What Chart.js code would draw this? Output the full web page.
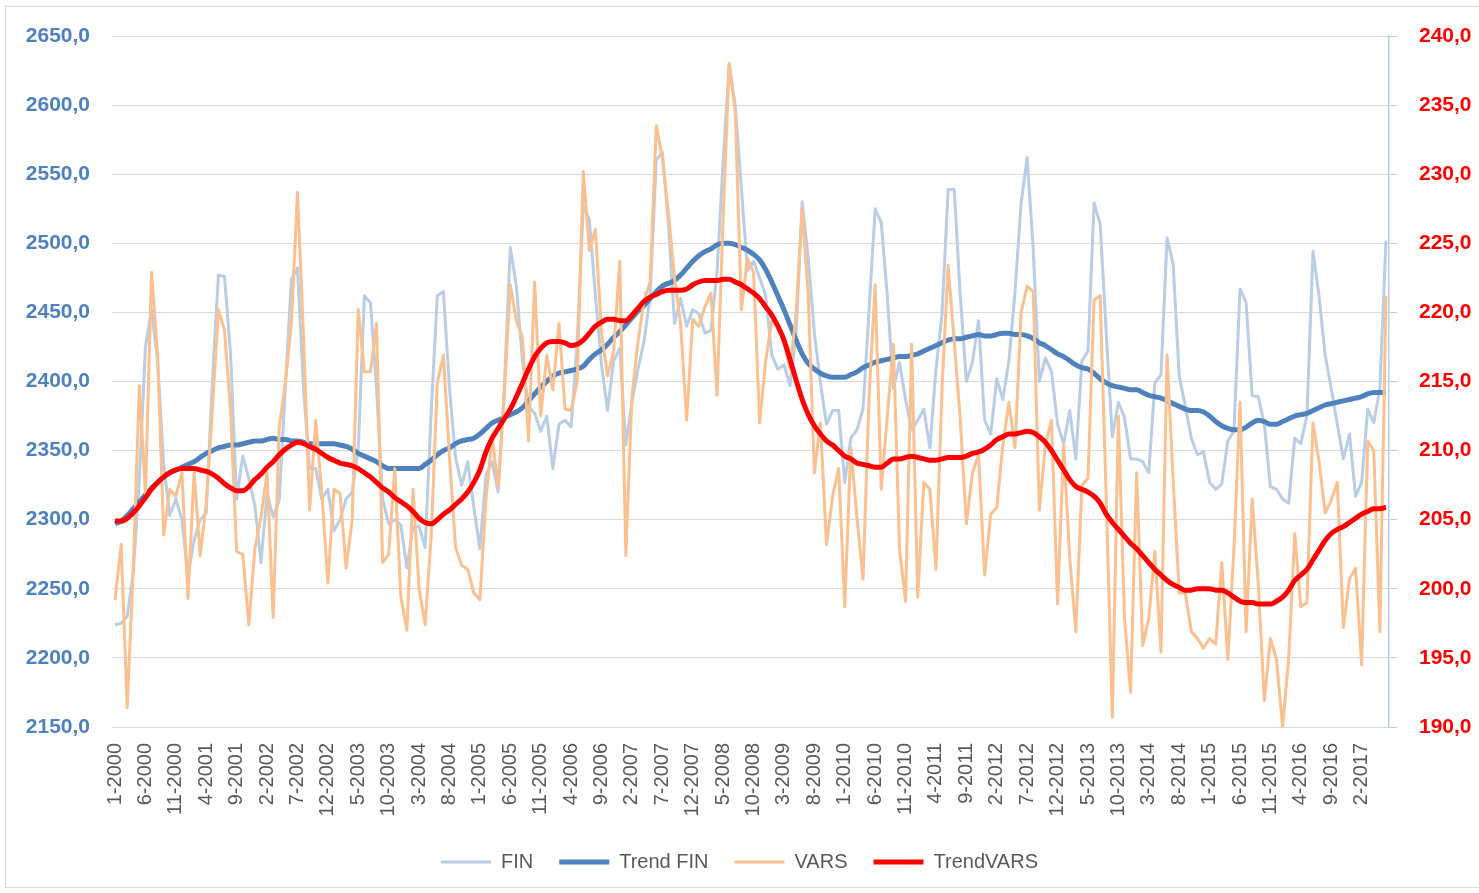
<!DOCTYPE html>
<html>
<head>
<meta charset="utf-8">
<script src="https://cdn.jsdelivr.net/npm/chart.js@4.4.0/dist/chart.umd.min.js"></script>
<style>
  html, body { margin: 0; padding: 0; background: #fff; }
  #wrap { position: relative; width: 1479px; height: 893px; overflow: hidden; }
  #frame { position: absolute; left: 5px; top: 6px; width: 1490px; height: 882px; border: 1px solid #d9d9d9; box-sizing: border-box; pointer-events: none; }
</style>
</head>
<body>
<div id="wrap">
  <canvas id="chart" width="1479" height="893"></canvas>
  <div id="frame"></div>
</div>
<script>
// monthly categories 1-2000 .. 6-2017
const firstYear = 2000;
const monthCount = 210;
const months = [];
for (let i = 0; i < monthCount; i++) {
    months.push((i % 12 + 1) + '-' + (firstYear + Math.floor(i / 12)));
}

// FIN (left axis)
const fin = [
    2224, 2225, 2230, 2262, 2330, 2425, 2452, 2415, 2340, 2303,
    2315, 2300, 2260, 2285, 2300, 2305, 2400, 2477, 2476, 2420,
    2315, 2346, 2330, 2310, 2269, 2319, 2302, 2314, 2395, 2474,
    2482, 2395, 2337, 2337, 2315, 2322, 2292, 2300, 2315, 2320,
    2352, 2462, 2457, 2395, 2315, 2297, 2300, 2296, 2265, 2295,
    2295, 2280, 2379, 2462, 2465, 2395, 2345, 2325, 2342, 2309,
    2279, 2332, 2342, 2320, 2395, 2497, 2469, 2415, 2382, 2377,
    2364, 2375, 2337, 2369, 2372, 2367, 2429, 2527, 2517, 2462,
    2412, 2379, 2415, 2424, 2354, 2385, 2409, 2429, 2462, 2560,
    2566, 2515, 2442, 2460, 2440, 2452, 2449, 2435, 2437, 2479,
    2560, 2630, 2599, 2540, 2480, 2487, 2475, 2462, 2419, 2409,
    2412, 2397, 2435, 2530, 2489, 2435, 2399, 2369, 2379, 2379,
    2327, 2359, 2365, 2380, 2452, 2525, 2515, 2462, 2395, 2414,
    2387, 2365, 2372, 2380, 2352, 2409, 2449, 2539, 2539, 2462,
    2400, 2414, 2444, 2372, 2362, 2402, 2387, 2415, 2465, 2529,
    2562, 2495, 2400, 2417, 2407, 2369, 2355, 2379, 2344, 2415,
    2422, 2529, 2514, 2435, 2360, 2385, 2374, 2344, 2344, 2342,
    2334, 2399, 2405, 2504, 2485, 2404, 2382, 2359, 2347, 2349,
    2327, 2322, 2326, 2357, 2364, 2467, 2457, 2390, 2389, 2369,
    2324, 2322, 2315, 2312, 2359, 2355, 2375, 2494, 2462, 2419,
    2395, 2369, 2344, 2362, 2317, 2327, 2380, 2370, 2395, 2502
];

const trendFin = [
    2297, 2299, 2303, 2308, 2313, 2318, 2323, 2327, 2331, 2334,
    2336, 2338, 2340, 2342, 2345, 2348, 2350, 2352, 2353, 2354,
    2354, 2355, 2356, 2357, 2357, 2358, 2359, 2358, 2358, 2357,
    2357, 2356, 2355, 2355, 2355, 2355, 2355, 2354, 2353, 2351,
    2348, 2346, 2344, 2342, 2339, 2337, 2337, 2337, 2337, 2337,
    2337, 2340, 2343, 2347, 2350, 2352, 2355, 2357, 2358, 2359,
    2362, 2366, 2370, 2372, 2374, 2376, 2378, 2381, 2386, 2391,
    2396, 2400, 2404, 2406, 2407, 2408, 2409, 2411, 2416, 2420,
    2423, 2427, 2432, 2436, 2441, 2446, 2451, 2455, 2460, 2465,
    2469, 2471, 2473, 2477, 2482, 2487, 2491, 2494, 2496, 2499,
    2500, 2500, 2499, 2497, 2495, 2492, 2488, 2481, 2472, 2462,
    2452, 2441, 2430, 2420, 2413, 2409, 2406, 2404, 2403, 2403,
    2403, 2405, 2407, 2410, 2412, 2414, 2415, 2416, 2417, 2418,
    2418, 2419, 2420, 2422, 2424, 2426, 2428, 2430, 2431, 2431,
    2432, 2433, 2434, 2433, 2433, 2434, 2435, 2435, 2434, 2434,
    2433, 2431, 2428, 2426, 2423, 2420, 2418, 2415, 2412, 2410,
    2409, 2406, 2402, 2399, 2397, 2396, 2395, 2394, 2394, 2392,
    2390, 2389, 2388, 2386, 2384, 2382, 2380, 2379, 2379, 2378,
    2375, 2371, 2368, 2366, 2365, 2365, 2367, 2370, 2372, 2371,
    2369, 2369, 2371, 2373, 2375, 2376, 2377, 2379, 2381, 2383,
    2384, 2385, 2386, 2387, 2388, 2389, 2391, 2392, 2392, 2392
];

// VARS (right axis)
const vars = [
    199.2, 203.2, 191.4, 201.5, 214.7, 206.9, 222.9, 216.9, 203.9, 207.2,
    206.7, 208.4, 199.3, 208.4, 202.4, 206.2, 212.9, 220.2, 218.7, 212.9,
    202.7, 202.5, 197.4, 202.9, 205.2, 208.4, 197.9, 211.7, 214.9, 219.2,
    228.7, 218.2, 205.7, 212.2, 207.0, 200.4, 207.2, 206.9, 201.5, 205.0,
    220.2, 215.7, 215.7, 219.2, 201.9, 202.5, 208.7, 199.4, 197.0, 207.2,
    200.0, 197.4, 203.9, 214.9, 216.9, 209.5, 203.0, 201.7, 201.4, 199.7,
    199.2, 206.5, 211.0, 207.4, 213.9, 222.0, 219.4, 218.2, 210.7, 222.2,
    212.5, 216.9, 214.4, 219.2, 213.0, 212.9, 215.0, 230.2, 224.5, 226.0,
    218.5, 215.4, 217.2, 223.7, 202.4, 213.9, 217.9, 220.9, 222.2, 233.5,
    231.2, 227.2, 222.5, 219.2, 212.2, 219.5, 219.0, 220.4, 221.4, 214.0,
    226.9, 238.0, 234.5, 220.2, 223.9, 222.9, 212.0, 216.5, 219.4, 219.0,
    217.9, 215.9, 219.9, 227.5, 221.2, 208.4, 212.0, 203.2, 206.7, 208.7,
    198.7, 210.2, 205.2, 200.7, 213.9, 222.0, 207.2, 212.5, 217.7, 202.9,
    199.1, 217.7, 199.4, 207.7, 207.2, 201.4, 214.5, 223.4, 217.9, 212.2,
    204.7, 208.4, 209.7, 201.0, 205.4, 205.9, 210.4, 213.5, 210.2, 220.0,
    221.9, 221.5, 205.7, 210.4, 212.2, 198.9, 210.4, 202.2, 196.9, 207.5,
    208.0, 220.9, 221.2, 206.5, 190.7, 212.5, 197.9, 192.5, 208.4, 195.9,
    197.9, 202.7, 195.4, 216.9, 207.9, 199.7, 199.7, 196.9, 196.4, 195.7,
    196.4, 196.0, 201.9, 194.9, 202.9, 213.5, 196.9, 206.5, 200.4, 191.9,
    196.4, 194.9, 190.0, 194.9, 204.0, 198.7, 199.0, 212.0, 209.2, 205.5,
    206.4, 207.7, 197.2, 200.7, 201.5, 194.5, 210.7, 210.0, 196.9, 221.2
];

const trendVars = [
    204.9, 204.9, 205.1, 205.5, 206.0, 206.6, 207.2, 207.7, 208.1, 208.4,
    208.6, 208.7, 208.7, 208.7, 208.6, 208.5, 208.3, 208.0, 207.6, 207.3,
    207.1, 207.1, 207.4, 207.9, 208.3, 208.8, 209.2, 209.7, 210.1, 210.4,
    210.6, 210.5, 210.3, 210.1, 209.8, 209.5, 209.3, 209.1, 209.0, 208.9,
    208.7, 208.4, 208.1, 207.7, 207.3, 207.0, 206.6, 206.3, 206.0, 205.6,
    205.1, 204.8, 204.7, 205.0, 205.4, 205.7, 206.1, 206.5, 207.0, 207.7,
    208.6, 209.9, 210.9, 211.6, 212.3, 213.0, 213.9, 214.9, 215.9, 216.8,
    217.4, 217.8, 217.9, 217.9, 217.8, 217.6, 217.7, 218.0, 218.5, 219.0,
    219.3, 219.5, 219.5, 219.4, 219.4, 219.8, 220.3, 220.8, 221.1, 221.3,
    221.5, 221.6, 221.6, 221.6, 221.7, 222.0, 222.2, 222.3, 222.3, 222.3,
    222.4, 222.4, 222.2, 222.0, 221.7, 221.4, 221.0, 220.4, 219.8, 219.0,
    218.0, 216.6, 215.1, 213.7, 212.6, 211.8, 211.2, 210.7, 210.4, 210.0,
    209.6, 209.4, 209.1, 209.0, 208.9, 208.8, 208.8, 209.1, 209.4, 209.4,
    209.5, 209.6, 209.5, 209.4, 209.3, 209.3, 209.4, 209.5, 209.5, 209.5,
    209.6, 209.8, 209.9, 210.1, 210.4, 210.8, 211.0, 211.2, 211.2, 211.3,
    211.4, 211.3, 211.0, 210.6, 210.0, 209.3, 208.6, 207.9, 207.4, 207.2,
    207.0, 206.7, 206.2, 205.4, 204.8, 204.3, 203.8, 203.3, 202.9, 202.4,
    201.9, 201.4, 201.0, 200.6, 200.3, 200.1, 199.9, 199.9, 200.0, 200.0,
    200.0, 199.9, 199.9, 199.7, 199.4, 199.1, 199.0, 199.0, 198.9, 198.9,
    198.9, 199.1, 199.4, 199.9, 200.6, 201.0, 201.4, 202.1, 202.8, 203.5,
    204.0, 204.3, 204.5, 204.8, 205.1, 205.4, 205.6, 205.8, 205.8, 205.9
];

const fontFamily = "'Liberation Sans', Arial, sans-serif";
Chart.defaults.font.family = fontFamily;

const commaFmt = v => Number(v).toFixed(1).replace('.', ',');

new Chart(document.getElementById('chart'), {
    type: 'line',
    data: {
        labels: months,
        datasets: [
            { label: 'FIN', data: fin, yAxisID: 'y', borderColor: '#B9CDE5', backgroundColor: '#B9CDE5',
              borderWidth: 3, pointRadius: 0, tension: 0, borderJoinStyle: 'round', order: 4 },
            { label: 'Trend FIN', data: trendFin, yAxisID: 'y', borderColor: '#4F81BD', backgroundColor: '#4F81BD',
              borderWidth: 5, pointRadius: 0, cubicInterpolationMode: 'monotone', borderJoinStyle: 'round', order: 3 },
            { label: 'VARS', data: vars, yAxisID: 'y1', borderColor: '#FAC090', backgroundColor: '#FAC090',
              borderWidth: 3, pointRadius: 0, tension: 0, borderJoinStyle: 'round', order: 2 },
            { label: 'TrendVARS', data: trendVars, yAxisID: 'y1', borderColor: '#FF0000', backgroundColor: '#FF0000',
              borderWidth: 5, pointRadius: 0, cubicInterpolationMode: 'monotone', borderJoinStyle: 'round', order: 1 }
        ]
    },
    options: {
        responsive: false,
        animation: false,
        layout: { padding: { top: 36, left: 0, right: 0, bottom: 11 } },
        plugins: {
            tooltip: { enabled: false },
            legend: {
                position: 'bottom',
                labels: {
                    usePointStyle: true,
                    pointStyle: 'line',
                    pointStyleWidth: 50,
                    padding: 26,
                    color: '#595959',
                    font: { size: 20 },
                    sort: (a, b) => a.datasetIndex - b.datasetIndex
                }
            }
        },
        scales: {
            x: {
                offset: true,
                grid: { display: false, drawTicks: false },
                border: { color: '#d9d9d9' },
                ticks: {
                    autoSkip: false,
                    minRotation: 90,
                    maxRotation: 90,
                    padding: 16,
                    color: '#595959',
                    font: { size: 20 },
                    callback: function (value, index) {
                        return index % 5 === 0 ? this.getLabelForValue(value) : '';
                    }
                },
                afterFit: scale => { scale.height = 99; }
            },
            y: {
                position: 'left',
                min: 2150,
                max: 2650,
                grid: { color: '#d9d9d9', drawTicks: false },
                border: { display: false },
                ticks: {
                    stepSize: 50,
                    padding: 22,
                    color: '#4F81BD',
                    font: { size: 21, weight: 'bold' },
                    callback: commaFmt
                },
                afterFit: scale => { scale.width = 112; }
            },
            y1: {
                position: 'right',
                min: 190,
                max: 240,
                grid: { drawOnChartArea: false, color: '#B9CDE5', tickLength: 8 },
                border: { color: '#B9CDE5', width: 1.5 },
                ticks: {
                    stepSize: 5,
                    padding: 22,
                    color: '#FF0000',
                    font: { size: 21, weight: 'bold' },
                    callback: commaFmt
                },
                afterFit: scale => { scale.width = 90; }
            }
        }
    }
});
</script>
</body>
</html>
